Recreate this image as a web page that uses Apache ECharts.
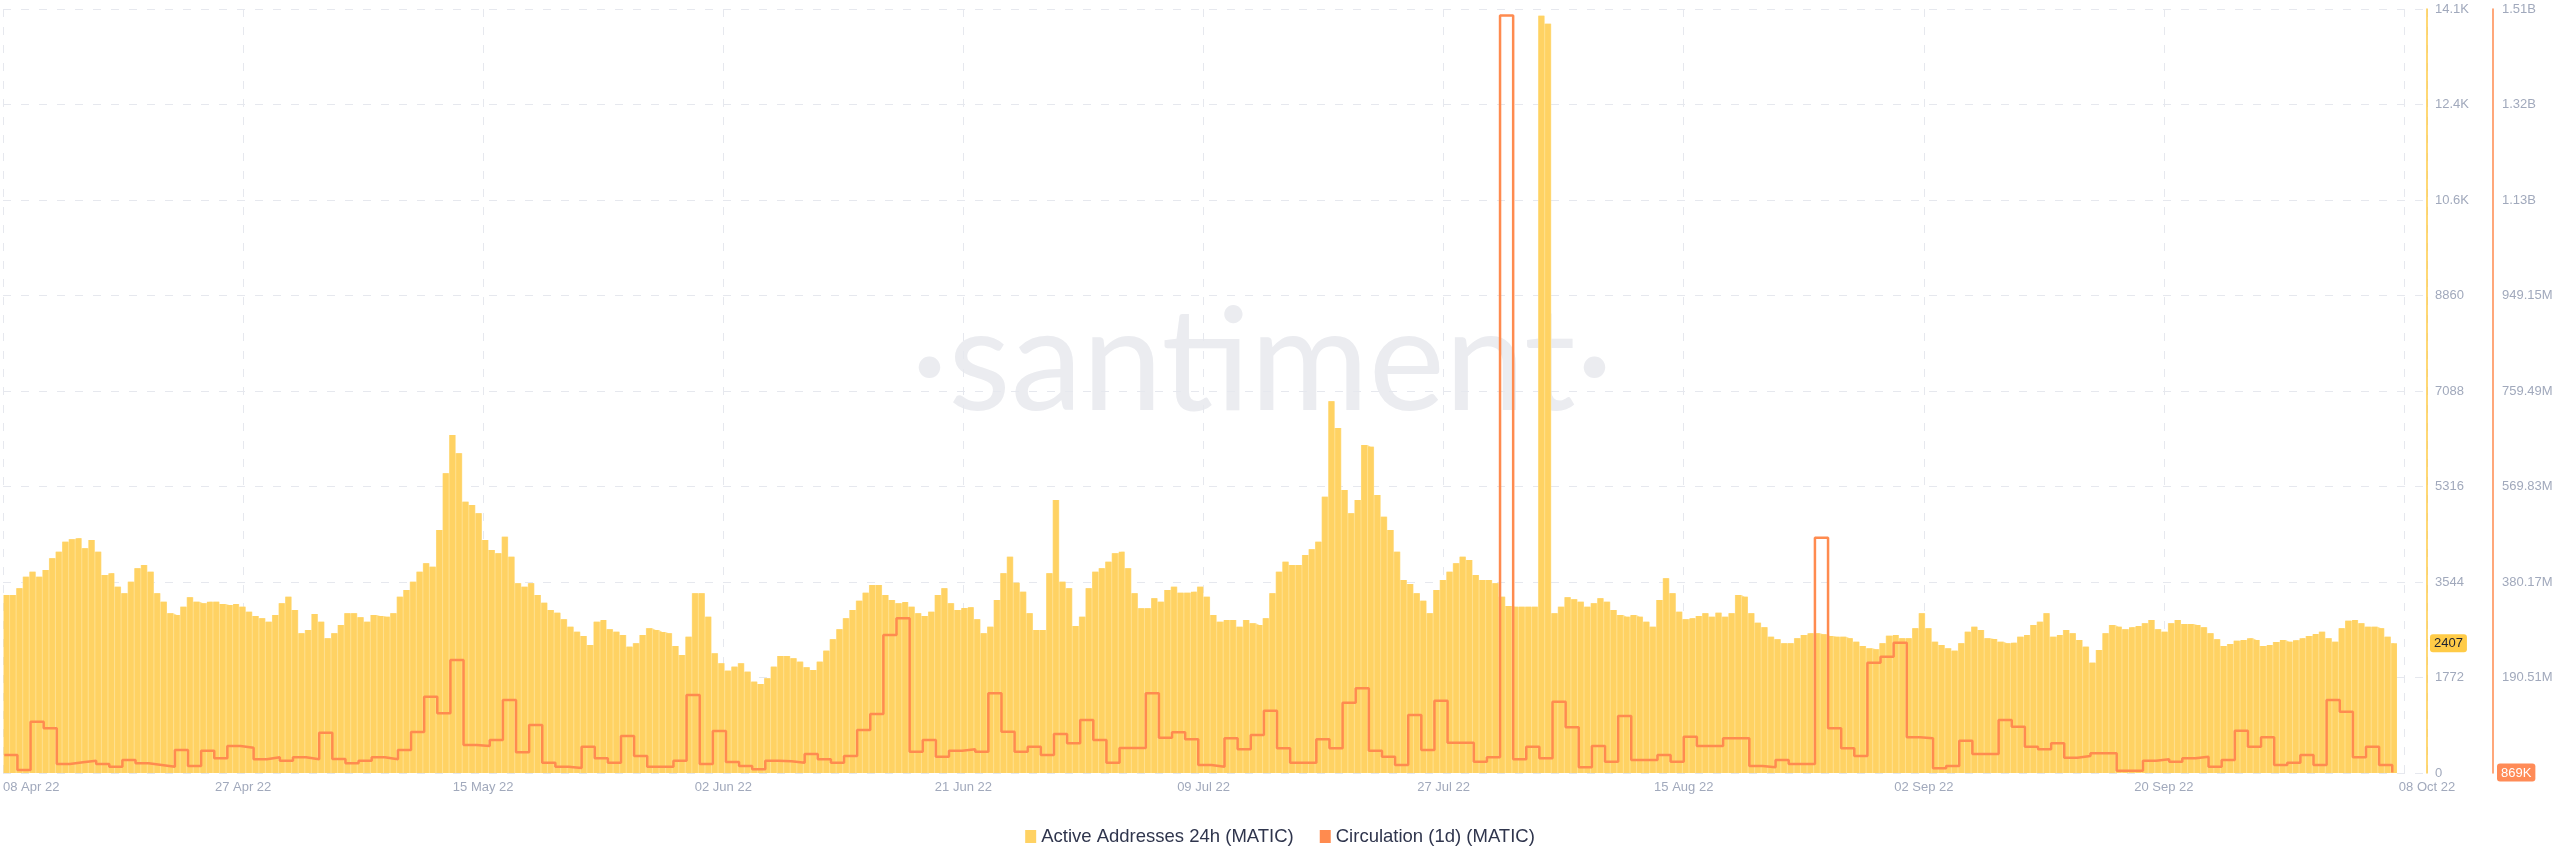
<!DOCTYPE html>
<html><head><meta charset="utf-8">
<script src="https://cdn.jsdelivr.net/npm/echarts@6/dist/echarts.min.js"></script>
<style>html,body{margin:0;padding:0;background:#fff}#c{width:2560px;height:867px}</style>
</head><body><div id="c"></div>
<script>
// ---- tick labels ----
const xTickLabels = ['08 Apr 22','27 Apr 22','15 May 22','02 Jun 22','21 Jun 22','09 Jul 22','27 Jul 22','15 Aug 22','02 Sep 22','20 Sep 22','08 Oct 22'];
const yTickLabels = ['0','1772','3544','5316','7088','8860','10.6K','12.4K','14.1K'];
const y2TickLabels = ['','190.51M','380.17M','569.83M','759.49M','949.15M','1.13B','1.32B','1.51B'];
const legendNames = ['Active Addresses 24h (MATIC)','Circulation (1d) (MATIC)'];

// ---- Active Addresses 24h, one value every 12 hours from 08 Apr 22 ----
const activeAddresses = [
3303,3303,3427,3643,3736,3643,3767,3983,4107,4292,
4336,4354,4169,4323,4107,3674,3705,3457,3334,3550,
3798,3859,3736,3334,3179,2963,2932,3086,3260,3179,
3148,3179,3179,3136,3117,3136,3086,2994,2913,2870,
2808,2932,3148,3272,3025,2591,2653,2950,2808,2499,
2591,2746,2963,2963,2888,2808,2932,2913,2901,2963,
3272,3396,3550,3736,3890,3829,4509,5560,6272,5931,
5035,4973,4818,4323,4138,4076,4385,4014,3519,3457,
3519,3303,3161,3025,2975,2851,2715,2622,2542,2375,
2808,2839,2666,2622,2561,2344,2406,2561,2684,2653,
2616,2591,2356,2190,2530,3334,3334,2901,2220,2035,
1899,1973,2035,1880,1695,1651,1757,1973,2171,2171,
2128,2066,1961,1911,2066,2270,2480,2666,2870,3025,
3198,3346,3488,3488,3303,3210,3148,3173,3086,2963,
2913,2994,3303,3427,3148,3025,3062,3074,2851,2591,
2715,3210,3705,4014,3532,3365,2963,2653,2653,3705,
5066,3550,3427,2728,2901,3427,3736,3798,3921,4076,
4107,3798,3334,3055,3055,3241,3179,3396,3457,3346,
3346,3365,3457,3272,2932,2808,2839,2839,
2715,2839,2777,2746,2870,3334,3736,3921,3859,3859,4045,4150,
4292,5127,6900,6400,5251,4818,5066,6086,6055,5158,
4756,4509,4107,3581,3507,3334,3198,2962,3396,3581,
3736,3890,4014,3952,3674,3581,3581,3519,3272,3099,
3086,3086,3086,3086,14050,13900,2962,3086,3260,3222,
3179,3086,3148,3241,3179,3024,2932,2901,2932,2901,
2808,2715,3210,3612,3334,2993,2851,2870,2913,2962,
2901,2975,2901,2962,3303,3272,2962,2789,2703,2530,
2480,2406,2406,2499,2560,2591,2591,2573,2542,2530,
2530,2499,2437,2356,2313,2295,2406,2548,2560,2499,
2499,2684,2962,2684,2437,2375,2313,2270,2406,2622,
2715,2653,2499,2486,2437,2406,2418,2530,2560,2746,
2808,2962,2530,2560,2653,2591,2468,2344,2047,2282,
2591,2746,2715,2666,2703,2728,2777,2839,2666,2622,
2777,2839,2765,2765,2746,2703,2591,2480,2356,2394,
2455,2468,2499,2468,2356,2375,2431,2468,2437,2462,
2499,2542,2579,2622,2499,2437,2684,2827,2839,2777,
2715,2715,2684,2530,2407
];

// ---- Circulation (1d), millions of MATIC, one value per day from 08 Apr 22 ----
const circulationM = [
35.8,6.0,102.0,88.7,17.9,21.2,24.5,17.9,12.6,25.8,
19.2,15.9,12.6,45.7,13.9,44.4,29.1,53.6,50.3,27.2,
31.1,24.5,31.1,27.2,80.1,27.8,19.2,24.5,31.1,27.2,
45.7,81.5,151.7,118.6,224.5,55.6,53.6,65.6,145.1,41.1,
95.4,20.5,12.6,9.9,52.3,29.1,20.5,73.5,33.8,12.6,
12.6,24.5,155.0,17.9,83.5,21.9,13.9,7.3,24.5,23.2,
20.5,37.8,27.2,20.5,33.8,85.4,117.2,274.2,307.3,42.4,
65.6,32.5,44.4,47.0,42.4,158.3,82.1,42.4,52.3,35.8,
77.5,58.9,105.3,65.6,20.5,49.7,49.7,158.3,70.2,80.8,
66.9,15.9,12.6,68.9,47.0,75.5,123.9,49.0,20.5,20.5,
66.9,49.0,139.8,168.2,44.4,32.5,15.9,115.2,45.7,143.7,
60.3,60.3,22.5,31.1,1505,27.2,52.3,29.1,141.7,90.7,
11.3,53.6,22.5,113.3,25.8,25.8,35.8,22.5,72.2,53.6,
53.6,68.9,68.9,13.9,11.3,25.8,17.9,17.9,467.6,88.8,
49.0,33.8,219.2,231.2,259.0,70.9,68.9,9.3,13.9,64.2,
37.8,37.8,105.3,92.1,52.3,47.0,58.9,30.5,33.8,39.1,
39.1,4.6,4.6,24.5,27.2,22.5,29.1,32.5,12.6,25.8,
84.1,52.3,70.9,15.9,20.5,35.8,15.9,145.1,121.9,31.1,
52.3,15.9,0.869
];

// ---- axis set-up (days from start) ----
const X_MAX = 184.75, X_STEP = 18.3;
const Y_MAX = 14176, Y_STEP = 1772;
const Y2_MAX = 1518, Y2_STEP = 189.75;

const aaData = activeAddresses.map((v, i) => [i * 0.5 + 0.25, v]);
const circData = circulationM.map((v, k) => [k + 0.1, v]);

const labelColor = '#A1A9BC';
const gridColor = '#E6E8EE';
const font = 'Liberation Sans, Arial, sans-serif';

function fmtM(v) {
  if (v >= 1000) return (v / 1000).toFixed(2) + 'B';
  if (v >= 1) return v.toFixed(2) + 'M';
  return Math.round(v * 1000) + 'K';
}

const chart = echarts.init(document.getElementById('c'), null, {renderer: 'canvas'});
chart.setOption({
  animation: false,
  backgroundColor: '#ffffff',
  textStyle: {fontFamily: font},
  grid: {left: 0, right: 133, top: 9, bottom: 94, containLabel: false},
  graphic: [{
    type: 'text', x: 1262, y: 364, z: -10, silent: true,
    style: {text: '\u00B7santiment\u00B7', fontSize: 144, fontFamily: 'Lato', fontWeight: 400,
      fill: '#EBECF0', align: 'center', verticalAlign: 'middle'}
  }],
  legend: {
    data: legendNames, left: 'center', top: 822, icon: 'rect', itemWidth: 11, itemHeight: 13, itemGap: 26,
    textStyle: {fontSize: 18.5, color: '#2F354D', fontFamily: font}
  },
  xAxis: {
    type: 'value', min: 0, max: X_MAX, interval: X_STEP,
    axisLine: {show: false}, axisTick: {show: false},
    splitLine: {show: true, lineStyle: {color: gridColor, type: [8, 10], width: 1}},
    axisLabel: {
      color: labelColor, fontSize: 13, margin: 8, alignMinLabel: 'left', showMaxLabel: true, showMinLabel: true,
      formatter: function (v) {
        if (v >= X_MAX - 1e-6) return xTickLabels[xTickLabels.length - 1];
        const i = Math.round(v / X_STEP);
        if (i >= xTickLabels.length - 1) return '';
        return xTickLabels[i];
      }
    }
  },
  yAxis: [{
    type: 'value', position: 'right', min: 0, max: Y_MAX, interval: Y_STEP,
    axisLine: {show: true, onZero: false, lineStyle: {color: '#FFCB47', width: 1.5}},
    axisTick: {show: false},
    splitLine: {show: true, lineStyle: {color: gridColor, type: [8, 10], width: 1}},
    axisLabel: {color: labelColor, fontSize: 13, margin: 8,
      formatter: v => yTickLabels[Math.round(v / Y_STEP)] || ''},
    axisPointer: {
      show: true, status: 'show', value: activeAddresses[activeAddresses.length - 1], triggerTooltip: false,
      lineStyle: {opacity: 0},
      label: {show: true, margin: 3, backgroundColor: '#FFCB47', color: '#1E2130', fontSize: 13,
        padding: [3, 4, 2, 4], formatter: p => String(Math.round(p.value))}
    }
  }, {
    type: 'value', position: 'right', offset: 66, min: 0, max: Y2_MAX, interval: Y2_STEP,
    axisLine: {show: true, onZero: false, lineStyle: {color: '#FF8B4F', width: 1.5}},
    axisTick: {show: false},
    splitLine: {show: false},
    axisLabel: {color: labelColor, fontSize: 13, margin: 9,
      formatter: v => y2TickLabels[Math.round(v / Y2_STEP)] || ''},
    axisPointer: {
      show: true, status: 'show', value: circulationM[circulationM.length - 1], triggerTooltip: false,
      lineStyle: {opacity: 0},
      label: {show: true, margin: 4, backgroundColor: '#FF8B57', color: '#ffffff', fontSize: 13,
        padding: [3, 4, 2, 4], formatter: p => fmtM(p.value)}
    }
  }],
  axisPointer: {triggerOn: 'none'},
  series: [{
    name: 'aa-underlay', type: 'line', step: 'middle', data: aaData, symbol: 'none', silent: true,
    lineStyle: {width: 0}, areaStyle: {color: '#FFE08E', opacity: 1}, z: 1
  }, {
    name: legendNames[0], type: 'bar', data: aaData, barWidth: '84%',
    itemStyle: {color: '#FFD263'}, z: 2
  }, {
    name: legendNames[1], type: 'line', step: 'end', data: circData, yAxisIndex: 1, symbol: 'none',
    lineStyle: {color: '#FF8B4F', width: 2.5}, itemStyle: {color: '#FF8B4F'}, z: 3
  }]
});
</script>
</body></html>
